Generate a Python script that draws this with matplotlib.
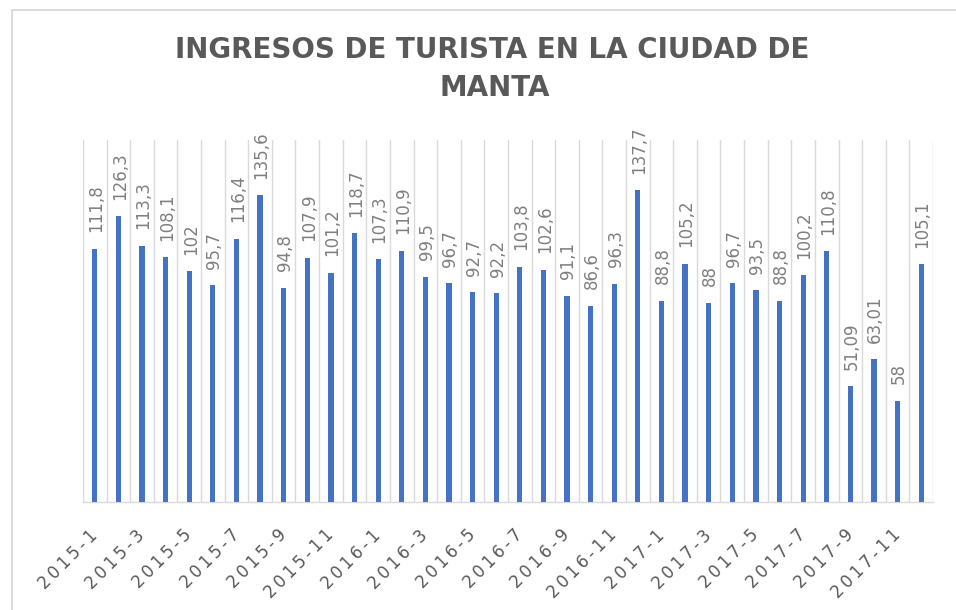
import matplotlib
matplotlib.use("Agg")
import matplotlib.pyplot as plt
from matplotlib.lines import Line2D
import numpy as np

categories = [f"{y}-{m}" for y in (2015, 2016, 2017) for m in range(1, 13)]
values = [111.8, 126.3, 113.3, 108.1, 102, 95.7, 116.4, 135.6, 94.8, 107.9, 101.2, 118.7,
          107.3, 110.9, 99.5, 96.7, 92.7, 92.2, 103.8, 102.6, 91.1, 86.6, 96.3, 137.7,
          88.8, 105.2, 88, 96.7, 93.5, 88.8, 100.2, 110.8, 51.09, 63.01, 44.8, 105.1]
value_labels = ["111,8", "126,3", "113,3", "108,1", "102", "95,7", "116,4", "135,6", "94,8",
                "107,9", "101,2", "118,7", "107,3", "110,9", "99,5", "96,7", "92,7", "92,2",
                "103,8", "102,6", "91,1", "86,6", "96,3", "137,7", "88,8", "105,2", "88",
                "96,7", "93,5", "88,8", "100,2", "110,8", "51,09", "63,01", "58", "105,1"]
title_lines = ["INGRESOS DE TURISTA EN LA CIUDAD DE", "MANTA"]

W, H = 956, 610
fig = plt.figure(figsize=(W / 100, H / 100), dpi=100)
fig.patch.set_facecolor("white")

# outer chart frame (left and top edges visible)
fx, fy = 11.5 / W, 1 - 9.5 / H
fig.lines.append(Line2D([fx, fx], [-0.05, fy], transform=fig.transFigure,
                        color="#D9D9D9", linewidth=1.3))
fig.lines.append(Line2D([fx, 1.05], [fy, fy], transform=fig.transFigure,
                        color="#D9D9D9", linewidth=1.3))

ax = fig.add_axes([83 / W, 1 - 502 / H, (933 - 83) / W, (502 - 140) / H])
n = len(categories)
x = np.arange(n)
ax.bar(x, values, width=0.22, color="#4472C4", zorder=3)
ax.set_xlim(-0.5, n - 0.5)
ax.set_ylim(0, 160)

# category gridlines
for b in np.arange(-0.5, n + 0.5, 1):
    ax.axvline(b, color="#D9D9D9", linewidth=1.0, zorder=1)

for s in ["top", "right", "left"]:
    ax.spines[s].set_visible(False)
ax.spines["bottom"].set_color("#D9D9D9")
ax.spines["bottom"].set_linewidth(1.0)
ax.set_yticks([])

spaced = ["\u2009".join(c) for c in categories[::2]]
ax.set_xticks(x[::2])
ax.set_xticklabels(spaced, rotation=45, ha="right", va="center",
                   rotation_mode="anchor", fontsize=12, color="#595959")
ax.tick_params(axis="x", length=0, pad=22)

for xi, v, lab in zip(x, values, value_labels):
    ax.annotate(lab, (xi, v), xytext=(1, 12), textcoords="offset points",
                rotation=90, ha="center", va="bottom", fontsize=12, color="#7F7F7F",
                zorder=4)

fig.text(492 / W, 1 - 50 / H, title_lines[0], ha="center", va="center",
         fontsize=20, fontweight="bold", color="#595959")
fig.text(495 / W, 1 - 88 / H, title_lines[1], ha="center", va="center",
         fontsize=20, fontweight="bold", color="#595959")

fig.savefig("out.png", dpi=100, facecolor="white")
